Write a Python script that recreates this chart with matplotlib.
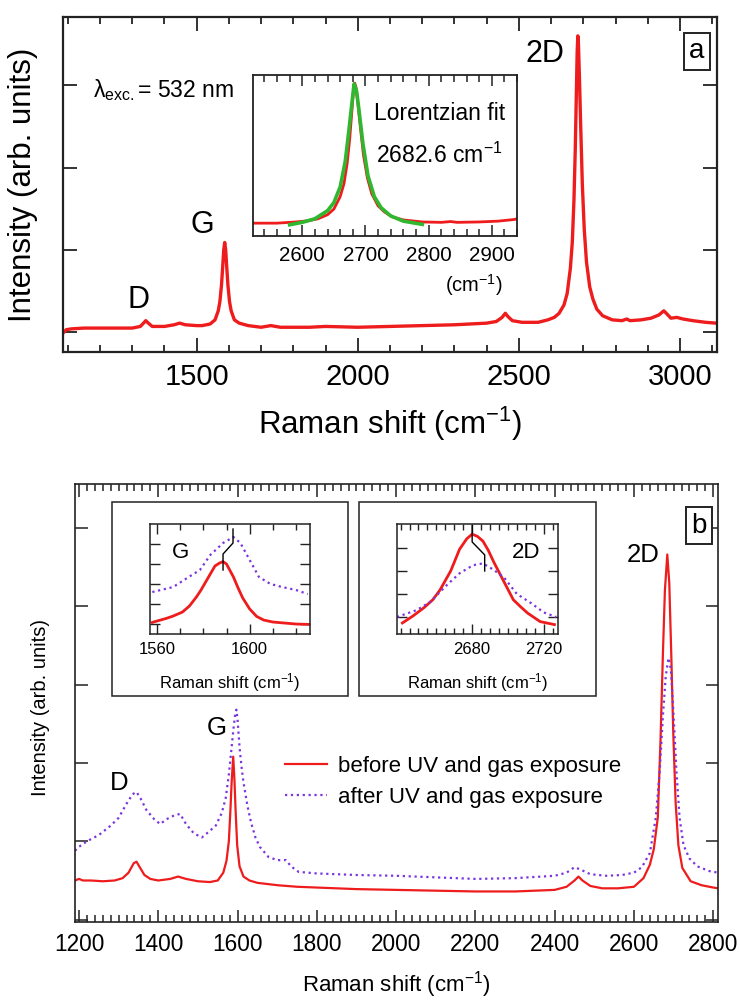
import matplotlib
matplotlib.use('Agg')
import matplotlib.pyplot as plt
from matplotlib.patches import Rectangle
from matplotlib.ticker import MultipleLocator

plt.rcParams.update({
    'font.family': ['Liberation Sans', 'DejaVu Sans'],
    'mathtext.fontset': 'custom',
    'mathtext.rm': 'Liberation Sans',
    'mathtext.it': 'Liberation Sans:italic',
    'mathtext.bf': 'Liberation Sans:bold',
})

RED = '#ee1c1c'
PUR = '#7b35e0'
GRN = '#2fb82f'
INK = '#222222'

# ── panel a: single spectrum (arb. units) ────────────────────────────────────
a_shift = [1088, 1095, 1110, 1150, 1200, 1250, 1300, 1325, 1335, 1342, 1350, 1362,
           1400, 1430, 1447, 1465, 1500, 1517, 1542, 1557, 1567, 1572, 1577, 1581,
           1584, 1587, 1590, 1593, 1597, 1602, 1607, 1617, 1632, 1660, 1700, 1730,
           1760, 1850, 1900, 2000, 2100, 2200, 2300, 2400, 2430, 2448, 2458, 2466,
           2480, 2510, 2560, 2590, 2610, 2625, 2640, 2650, 2660, 2666, 2671, 2675,
           2678, 2681, 2683, 2685, 2688, 2692, 2697, 2703, 2710, 2720, 2730, 2742,
           2760, 2790, 2820, 2835, 2845, 2880, 2910, 2935, 2950, 2960, 2972, 2990,
           3010, 3040, 3080, 3112]
a_int = [0.00, 0.03, 0.04, 0.05, 0.05, 0.05, 0.05, 0.07, 0.11, 0.14, 0.11, 0.07,
         0.07, 0.09, 0.11, 0.09, 0.08, 0.08, 0.10, 0.15, 0.26, 0.37, 0.57, 0.81,
         1.00, 1.09, 1.00, 0.81, 0.57, 0.37, 0.26, 0.15, 0.11, 0.08, 0.06, 0.08,
         0.06, 0.06, 0.07, 0.06, 0.07, 0.08, 0.09, 0.11, 0.13, 0.18, 0.23, 0.19,
         0.14, 0.12, 0.12, 0.15, 0.18, 0.23, 0.33, 0.47, 0.78, 1.10, 1.60, 2.20,
         2.80, 3.40, 3.60, 3.50, 3.10, 2.50, 1.80, 1.25, 0.85, 0.55, 0.40, 0.28,
         0.20, 0.15, 0.14, 0.16, 0.14, 0.15, 0.17, 0.21, 0.26, 0.22, 0.17, 0.18,
         0.16, 0.14, 0.12, 0.11]

# Lorentzian fit of the 2D band (inset of panel a)
fit_shift = [2580, 2600, 2620, 2640, 2650, 2660, 2668, 2674, 2678, 2682, 2686,
             2690, 2696, 2704, 2714, 2725, 2740, 2760, 2790]
fit_int = [0.08, 0.14, 0.23, 0.43, 0.63, 1.02, 1.65, 2.45, 3.02, 3.58, 3.40,
           2.90, 2.10, 1.30, 0.78, 0.50, 0.30, 0.17, 0.09]

# ── panel b: before / after UV and gas exposure ──────────────────────────────
b_shift_before = [1190, 1200, 1210, 1230, 1260, 1290, 1310, 1325, 1338, 1345, 1352,
                  1365, 1380, 1400, 1430, 1450, 1470, 1500, 1530, 1550, 1564, 1572,
                  1578, 1582, 1585, 1589, 1592, 1595, 1599, 1605, 1615, 1630, 1650,
                  1700, 1750, 1800, 1900, 2000, 2100, 2200, 2300, 2400, 2430, 2450,
                  2460, 2470, 2490, 2520, 2560, 2600, 2624, 2640, 2650, 2660, 2667,
                  2673, 2678, 2684, 2689, 2694, 2699, 2705, 2712, 2722, 2743, 2770,
                  2800, 2812]
b_before = [0.50, 0.52, 0.50, 0.50, 0.49, 0.50, 0.53, 0.60, 0.72, 0.74, 0.68,
            0.57, 0.52, 0.50, 0.52, 0.55, 0.52, 0.49, 0.48, 0.50, 0.60, 0.75,
            1.00, 1.40, 1.75, 2.08, 1.80, 1.40, 0.95, 0.68, 0.55, 0.50, 0.47,
            0.44, 0.42, 0.41, 0.39, 0.38, 0.37, 0.36, 0.36, 0.38, 0.42, 0.50,
            0.55, 0.50, 0.43, 0.40, 0.40, 0.42, 0.53, 0.70, 0.90, 1.30, 2.30,
            3.40, 4.20, 4.66, 4.30, 3.40, 2.40, 1.50, 0.95, 0.66, 0.49, 0.44,
            0.41, 0.40]

b_shift_after = [1190, 1200, 1220, 1250, 1280, 1300, 1320, 1335, 1345, 1355, 1370,
                 1390, 1405, 1420, 1440, 1455, 1470, 1490, 1510, 1527, 1545, 1560,
                 1570, 1578, 1585, 1590, 1594, 1597, 1600, 1605, 1610, 1615, 1625,
                 1634, 1645, 1656, 1678, 1700, 1722, 1735, 1754, 1800, 1900, 2000,
                 2100, 2200, 2300, 2400, 2430, 2450, 2465, 2490, 2530, 2570, 2600,
                 2620, 2640, 2655, 2665, 2673, 2680, 2687, 2693, 2700, 2707, 2715,
                 2725, 2740, 2760, 2790, 2812]
b_after = [0.88, 0.93, 1.00, 1.08, 1.20, 1.30, 1.48, 1.60, 1.63, 1.55, 1.40,
           1.28, 1.22, 1.28, 1.33, 1.35, 1.22, 1.10, 1.05, 1.12, 1.20, 1.36,
           1.55, 1.85, 2.20, 2.45, 2.62, 2.68, 2.55, 2.20, 1.95, 1.75, 1.45,
           1.24, 1.05, 0.93, 0.80, 0.76, 0.76, 0.68, 0.61, 0.59, 0.57, 0.56,
           0.54, 0.52, 0.53, 0.56, 0.60, 0.67, 0.64, 0.58, 0.56, 0.57, 0.60,
           0.67, 0.85, 1.30, 1.90, 2.60, 3.10, 3.34, 3.20, 2.60, 1.90, 1.30,
           0.95, 0.78, 0.68, 0.62, 0.60]

# G band zoom
g_shift_before = [1558, 1560, 1564, 1567, 1571, 1574, 1577, 1579, 1581, 1583, 1585,
                  1587, 1588.5, 1590, 1593, 1595, 1597, 1600, 1603, 1606, 1610,
                  1615, 1620, 1626]
g_before = [0.08, 0.15, 0.28, 0.40, 0.60, 0.90, 1.35, 1.70, 2.10, 2.50, 2.90,
            3.05, 3.12, 3.00, 2.35, 1.80, 1.30, 0.75, 0.38, 0.20, 0.10,
            0.05, 0.00, -0.02]
g_shift_after = [1558, 1567, 1573, 1578.5, 1583, 1588.5, 1593, 1596, 1600, 1604,
                 1609, 1614, 1620, 1625]
g_after = [1.60, 1.85, 2.30, 2.70, 3.45, 4.05, 4.35, 4.05, 3.20, 2.35,
           2.00, 1.85, 1.70, 1.50]
g_mark_x = [1588.5, 1588.5, 1592.8, 1592.8]
g_mark_y = [2.70, 3.50, 4.05, 4.75]

# 2D band zoom
d2_shift_before = [2641, 2647, 2653, 2658, 2662, 2668, 2673, 2677, 2680, 2683,
                   2686, 2689, 2692, 2695, 2698, 2703, 2707, 2711, 2718, 2726]
d2_before = [-0.26, 0.05, 0.40, 0.75, 1.17, 2.00, 2.95, 3.40, 3.60, 3.50,
             3.30, 2.90, 2.40, 1.95, 1.50, 0.75, 0.45, 0.17, -0.20, -0.33]
d2_shift_after = [2638, 2649, 2656.5, 2666, 2673, 2680.5, 2686, 2692, 2698, 2705,
                  2713, 2720, 2727]
d2_after = [0.00, 0.30, 0.65, 1.40, 1.90, 2.25, 2.33, 2.05, 1.70, 1.00,
            0.60, 0.20, 0.00]
d2_mark_x = [2680, 2680, 2687, 2687]
d2_mark_y = [3.98, 3.26, 2.70, 2.00]

CM = r'Raman shift (cm$^{-1}$)'

fig = plt.figure(figsize=(7.4, 10.01), dpi=100)


def frame(ax, lw):
    for s in ax.spines.values():
        s.set_linewidth(lw)
        s.set_color(INK)


# ═════════════════════════ panel a ═════════════════════════
ax_a = fig.add_axes([0.0851, 0.6484, 0.8838, 0.3347])
ax_a.plot(a_shift, a_int, color=RED, lw=2.4)
ax_a.set_xlim(1085, 3115)
ax_a.set_ylim(-0.24, 3.83)
ax_a.xaxis.set_major_locator(MultipleLocator(500))
ax_a.xaxis.set_minor_locator(MultipleLocator(100))
ax_a.set_yticks([0, 1, 2, 3])
ax_a.tick_params(which='both', direction='in', top=True, right=True,
                 labelleft=False, width=1.3, color=INK)
ax_a.tick_params(which='major', length=10, labelsize=21, pad=8)
ax_a.tick_params(which='minor', length=5)
frame(ax_a, 1.6)
ax_a.set_xlabel(CM, fontsize=22.5, labelpad=10)
ax_a.set_ylabel('Intensity (arb. units)', fontsize=22.5)
ax_a.yaxis.set_label_coords(-0.038, 0.50)

ax_a.text(1320, 0.39, 'D', fontsize=22, ha='center', va='center')
ax_a.text(1519, 1.30, 'G', fontsize=22, ha='center', va='center')
ax_a.text(2581, 3.38, '2D', fontsize=22, ha='center', va='center')
ax_a.text(1177, 2.94, r'$\mathregular{\lambda_{exc.}}$= 532 nm', fontsize=16.5,
          ha='left', va='center')
ax_a.text(3053, 3.41, 'a', fontsize=20, ha='center', va='center',
          bbox=dict(boxstyle='square,pad=0.2', fc='white', ec=INK, lw=1.4))

# inset of panel a
ax_ai = fig.add_axes([0.3419, 0.7642, 0.3568, 0.1608])
ax_ai.plot(a_shift, a_int, color=RED, lw=2.0)
ax_ai.plot(fit_shift, fit_int, color=GRN, lw=2.6)
ax_ai.set_xlim(2522, 2940)
ax_ai.set_ylim(-0.2, 3.8)
ax_ai.xaxis.set_major_locator(MultipleLocator(100))
ax_ai.xaxis.set_minor_locator(MultipleLocator(20))
ax_ai.set_yticks([])
ax_ai.tick_params(which='both', direction='in', top=True, width=1.1, color=INK)
ax_ai.tick_params(which='major', length=8, labelsize=14.8, pad=7)
ax_ai.tick_params(which='minor', length=5)
frame(ax_ai, 1.3)
ax_ai.text(0.705, 0.764, 'Lorentzian fit', transform=ax_ai.transAxes,
           fontsize=16.5, ha='center', va='center')
ax_ai.text(0.705, 0.50, r'2682.6 cm$^{-1}$', transform=ax_ai.transAxes,
           fontsize=16.5, ha='center', va='center')
fig.text(474 / 740, 1 - 285 / 1001, r'(cm$^{-1}$)', fontsize=14.5,
         ha='center', va='center')

# ═════════════════════════ panel b ═════════════════════════
ax_b = fig.add_axes([0.1014, 0.0789, 0.8689, 0.4376])
ax_b.plot(b_shift_before, b_before, color=RED, lw=1.6,
          label='before UV and gas exposure')
ax_b.plot(b_shift_after, b_after, color=PUR, lw=1.6, ls=':',
          label='after UV and gas exposure')
ax_b.set_xlim(1190, 2812)
ax_b.set_ylim(-0.03, 5.56)
ax_b.xaxis.set_major_locator(MultipleLocator(200))
ax_b.xaxis.set_minor_locator(MultipleLocator(20))
ax_b.set_yticks([0, 1, 2, 3, 4, 5])
ax_b.tick_params(which='both', direction='in', top=True, right=True,
                 labelleft=False, width=1.1, color=INK)
ax_b.tick_params(which='major', length=9, labelsize=16.3, pad=8)
ax_b.tick_params(which='minor', length=5)
frame(ax_b, 1.2)
ax_b.set_xlabel(CM, fontsize=16, labelpad=9)
ax_b.set_ylabel('Intensity (arb. units)', fontsize=14.5)
ax_b.yaxis.set_label_coords(-0.039, 0.49)

ax_b.text(1301, 1.75, 'D', fontsize=18.5, ha='center', va='center')
ax_b.text(1548, 2.45, 'G', fontsize=18.5, ha='center', va='center')
ax_b.text(2622, 4.66, '2D', fontsize=18.5, ha='center', va='center')
ax_b.text(2764, 5.03, 'b', fontsize=20, ha='center', va='center',
          bbox=dict(boxstyle='square,pad=0.2', fc='white', ec=INK, lw=1.4))
ax_b.legend(loc='center left', bbox_to_anchor=(0.3266, 0.3196), frameon=False,
            fontsize=16, handlelength=1.9, handletextpad=0.5, labelspacing=0.45,
            borderpad=0, borderaxespad=0)

# white frames holding the two zoom insets
for x0, w in [(112, 236), (359, 237)]:
    ax_b.add_patch(Rectangle((x0 / 740, 1 - 696 / 1001), w / 740, 194 / 1001,
                             transform=fig.transFigure, fc='white', ec=INK,
                             lw=1.1, zorder=5, clip_on=False))
    fig.text((x0 + w / 2) / 740, 1 - 683 / 1001, CM, fontsize=12,
             ha='center', va='center')

# G band inset
ax_g = fig.add_axes([0.2027, 0.3666, 0.2162, 0.1099])
ax_g.plot(g_shift_before, g_before, color=RED, lw=2.0)
ax_g.plot(g_shift_after, g_after, color=PUR, lw=1.6, ls=':')
ax_g.plot(g_mark_x, g_mark_y, color='black', lw=1.0)
ax_g.set_xlim(1557, 1626)
ax_g.set_ylim(-0.5, 5.0)
ax_g.set_xticks([1560, 1600])
ax_g.xaxis.set_minor_locator(MultipleLocator(10))
ax_g.set_yticks([0, 1, 2, 3, 4])
ax_g.text(0.19, 0.74, 'G', transform=ax_g.transAxes, fontsize=16,
          ha='center', va='center')

# 2D band inset
ax_d = fig.add_axes([0.5365, 0.3666, 0.2176, 0.1099])
ax_d.plot(d2_shift_before, d2_before, color=RED, lw=2.0)
ax_d.plot(d2_shift_after, d2_after, color=PUR, lw=1.6, ls=':')
ax_d.plot(d2_mark_x, d2_mark_y, color='black', lw=1.0)
ax_d.set_xlim(2638, 2728)
ax_d.set_ylim(-0.74, 4.04)
ax_d.set_xticks([2680, 2720])
ax_d.xaxis.set_minor_locator(MultipleLocator(5))
ax_d.set_yticks([0, 1, 2, 3])
ax_d.text(0.80, 0.74, '2D', transform=ax_d.transAxes, fontsize=16,
          ha='center', va='center')

for ax in (ax_g, ax_d):
    ax.tick_params(which='both', direction='in', top=True, right=True,
                   labelleft=False, width=1.0, color=INK)
    ax.tick_params(which='major', length=7, labelsize=12, pad=6)
    ax.tick_params(which='minor', length=4)
    frame(ax, 1.1)

fig.savefig('out.png', dpi=100, facecolor='white')
